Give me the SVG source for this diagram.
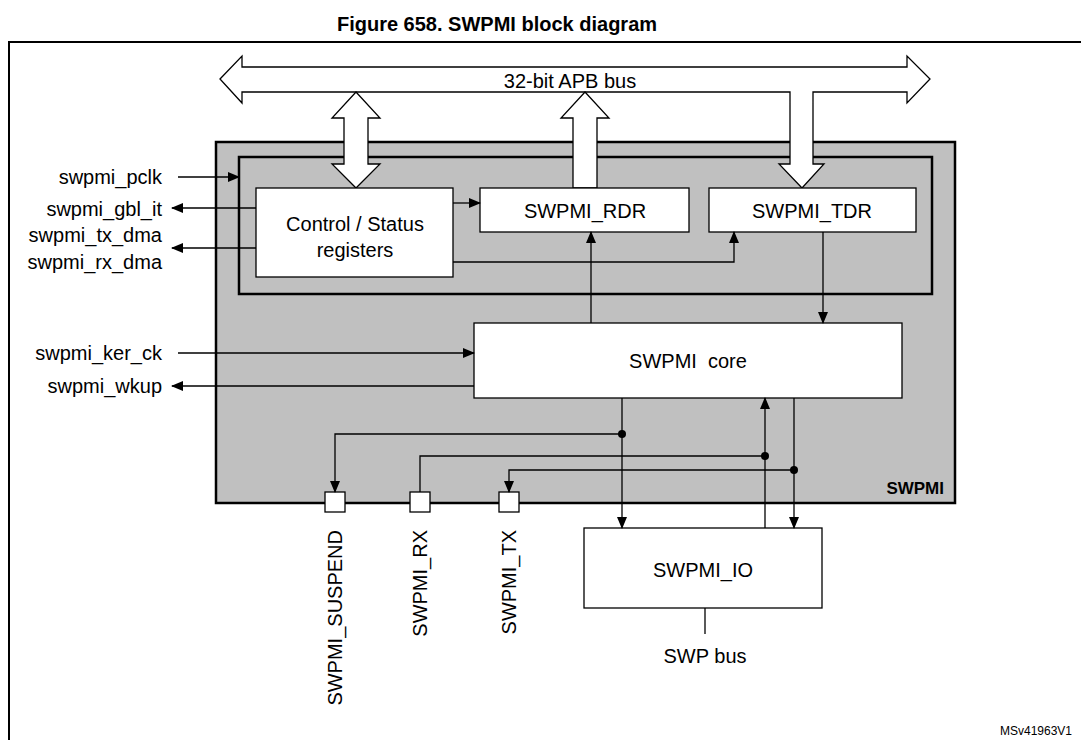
<svg xmlns="http://www.w3.org/2000/svg" width="1081" height="740" viewBox="0 0 1081 740">
<style>
text{font-family:"Liberation Sans",Arial,sans-serif;font-size:20px;fill:#000}
.b{fill:#fff;stroke:#000;stroke-width:1.3}
.l{fill:none;stroke:#000;stroke-width:1.3}
.r{text-anchor:end}
.m{text-anchor:middle}
</style>
<defs>
<marker id="a" markerWidth="12" markerHeight="10" refX="11" refY="5" orient="auto" markerUnits="userSpaceOnUse"><path d="M0,0 L12,5 L0,10 z" fill="#000"/></marker>
</defs>
<rect width="1081" height="740" fill="#fff"/>
<text x="497" y="31" class="m" style="font-weight:bold">Figure 658. SWPMI block diagram</text>
<rect x="9" y="42" width="1080" height="710" class="l" style="stroke-width:2"/>
<g id="swpmi">
<rect x="216" y="142" width="739" height="361" fill="#c0c0c0" stroke="#000" stroke-width="2.5"/>
<rect x="239" y="157" width="693" height="137" fill="none" stroke="#000" stroke-width="2.5"/>
<text x="944" y="494" class="r" style="font-weight:bold;font-size:17px">SWPMI</text>
</g>
<g id="bus">
<path class="b" d="M220,79 L242,56 L242,67 L907,67 L907,56 L930,79 L907,103 L907,92 L813,92 L813,164 L824,164 L802,188 L779,164 L790,164 L790,92 L242,92 L242,103 Z"/>
<text x="570" y="88" class="m">32-bit APB bus</text>
<path class="b" d="M356,92 L380,118 L368,118 L368,164 L380,164 L356,188 L332,164 L344,164 L344,118 L332,118 Z"/>
<path class="b" d="M585,92 L609,118 L597,118 L597,188 L573,188 L573,118 L561,118 Z"/>
</g>
<g id="ctrl"><rect x="256" y="188" width="197" height="89" class="b"/>
<text x="355" y="231" class="m">Control / Status</text><text x="355" y="257" class="m">registers</text></g>
<g id="rdr"><rect x="480" y="188" width="209" height="44" class="b"/><text x="585" y="218" class="m">SWPMI_RDR</text></g>
<g id="tdr"><rect x="709" y="188" width="207" height="44" class="b"/><text x="812" y="218" class="m">SWPMI_TDR</text></g>
<g id="core"><rect x="474" y="323" width="428" height="75" class="b"/><text x="688" y="368" class="m">SWPMI&#160; core</text></g>
<g id="io"><rect x="584" y="528" width="238" height="80" class="b"/><text x="703" y="577" class="m">SWPMI_IO</text></g>
<g id="ports">
<rect x="325" y="492" width="20" height="20" class="b"/>
<rect x="410" y="492" width="20" height="20" class="b"/>
<rect x="499" y="492" width="20" height="20" class="b"/>
</g>
<g id="connectors">
<path class="l" d="M178,177 H239" marker-end="url(#a)"/>
<path class="l" d="M256,208 H172" marker-end="url(#a)"/>
<path class="l" d="M256,248 H172" marker-end="url(#a)"/>
<path class="l" d="M453,203 H480" marker-end="url(#a)"/>
<path class="l" d="M453,262 H734 V232" marker-end="url(#a)"/>
<path class="l" d="M591,323 V232" marker-end="url(#a)"/>
<path class="l" d="M823,232 V323" marker-end="url(#a)"/>
<path class="l" d="M178,353 H474" marker-end="url(#a)"/>
<path class="l" d="M474,386 H172" marker-end="url(#a)"/>
<path class="l" d="M622,398 V528" marker-end="url(#a)"/>
<path class="l" d="M765,528 V398" marker-end="url(#a)"/>
<path class="l" d="M794,398 V528" marker-end="url(#a)"/>
<path class="l" d="M622,434 H335 V492" marker-end="url(#a)"/>
<path class="l" d="M765,456 H420 V492"/>
<path class="l" d="M794,470 H509 V492" marker-end="url(#a)"/>
<path class="l" d="M705,608 V634"/>
<circle cx="622" cy="434" r="4"/><circle cx="765" cy="456" r="4"/><circle cx="794" cy="470" r="4"/>
</g>
<g id="labels">
<text x="162" y="184" class="r">swpmi_pclk</text>
<text x="162" y="216" class="r">swpmi_gbl_it</text>
<text x="162" y="242" class="r">swpmi_tx_dma</text>
<text x="162" y="269" class="r">swpmi_rx_dma</text>
<text x="162" y="360" class="r">swpmi_ker_ck</text>
<text x="162" y="393" class="r">swpmi_wkup</text>
<text transform="translate(342,530) rotate(-90)" class="r">SWPMI_SUSPEND</text>
<text transform="translate(427,530) rotate(-90)" class="r">SWPMI_RX</text>
<text transform="translate(516,530) rotate(-90)" class="r">SWPMI_TX</text>
<text x="705" y="663" class="m">SWP bus</text>
<text x="1000" y="735" style="font-size:12px">MSv41963V1</text>
</g>
</svg>
